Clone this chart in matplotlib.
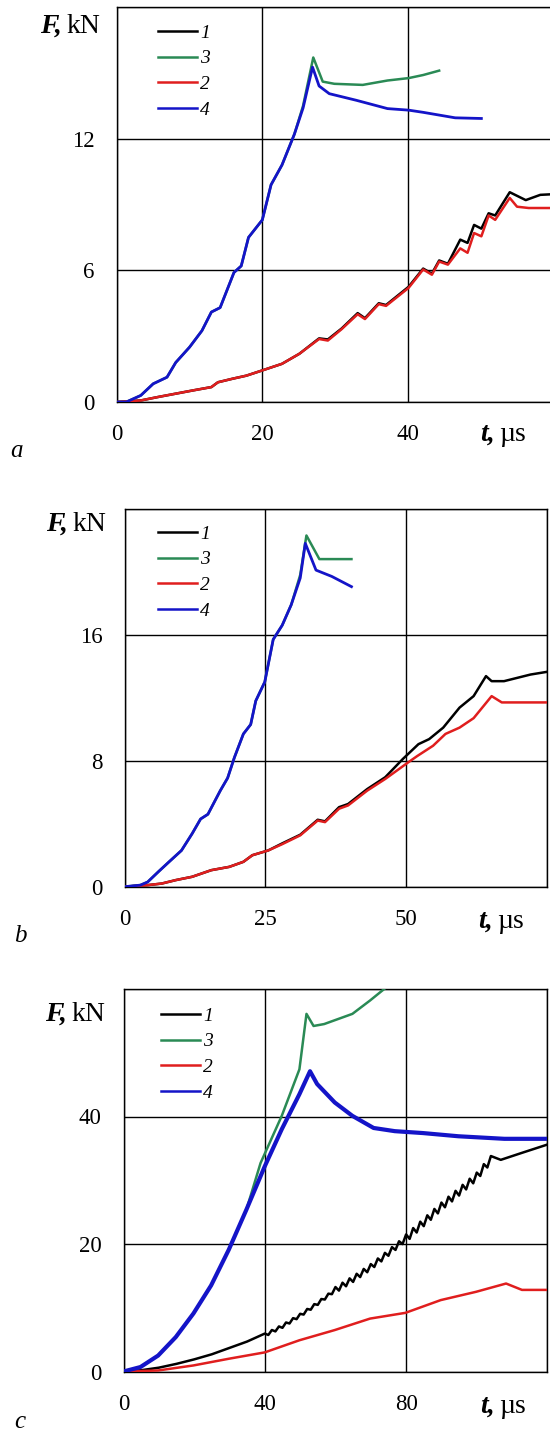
import matplotlib
matplotlib.use('Agg')
import matplotlib.pyplot as plt
from matplotlib.lines import Line2D

plt.rcParams['font.family'] = ['Liberation Serif', 'DejaVu Serif']

# ---------------- data: panel a ----------------
a_xticks = [0, 20, 40]
a_yticks = [0, 6, 12]
a_xlim = (0, 60)
a_ylim = (0, 18)

a4_t = [0, 1.3, 3.3, 5, 6.9, 8.1, 10, 11.7, 13, 14.2, 16.1, 17.1, 18.1, 20, 21.2, 22.7, 24.4, 25.6, 26.9,
        27.8, 29.2, 32.9, 37.2, 40.1, 42.1, 46.5, 50.1]
a4_F = [0, 0, 0.3, 0.83, 1.13, 1.8, 2.5, 3.25, 4.1, 4.3, 5.9, 6.2, 7.5, 8.3, 9.9, 10.8, 12.2, 13.4, 15.26,
        14.4, 14.05, 13.75, 13.37, 13.3, 13.2, 12.95, 12.92]
a3_t = [0, 1.3, 3.3, 5, 6.9, 8.1, 10, 11.7, 13, 14.2, 16.1, 17.1, 18.1, 20, 21.2, 22.7, 24.4, 25.6, 27.0,
        28.3, 29.9, 33.8, 37.2, 40.1, 42.1, 44.3]
a3_F = [0, 0, 0.3, 0.83, 1.13, 1.8, 2.5, 3.25, 4.1, 4.3, 5.9, 6.2, 7.5, 8.3, 9.9, 10.8, 12.2, 13.5, 15.7,
        14.6, 14.5, 14.45, 14.65, 14.76, 14.9, 15.1]
a2_t = [0, 3.3, 5.7, 8.1, 10.5, 13, 13.9, 15.9, 17.8, 20, 22.7, 25.1, 27.8, 29, 30.9, 33.1, 34.1, 36, 37,
        40.1, 42.1, 43.3, 44.3, 45.5, 47.2, 48.2, 49.1, 50.1, 51.1, 52, 54, 55, 56.6, 60]
a2_F = [0, 0.07, 0.23, 0.38, 0.53, 0.68, 0.9, 1.06, 1.2, 1.44, 1.74, 2.2, 2.87, 2.8, 3.32, 4.0, 3.78, 4.46, 4.38,
        5.2, 6.04, 5.8, 6.4, 6.26, 7.0, 6.8, 7.7, 7.55, 8.5, 8.3, 9.3, 8.9, 8.84, 8.84]
a1_t = [0, 3.3, 5.7, 8.1, 10.5, 13, 13.9, 15.9, 17.8, 20, 22.7, 25.1, 27.8, 29, 30.9, 33.1, 34.1, 36, 37,
        40.1, 42.1, 43.3, 44.3, 45.5, 47.2, 48.2, 49.1, 50.1, 51.1, 52, 54, 56.2, 58.2, 60]
a1_F = [0, 0.07, 0.23, 0.38, 0.53, 0.68, 0.9, 1.06, 1.2, 1.44, 1.74, 2.2, 2.9, 2.85, 3.35, 4.05, 3.82, 4.5, 4.42,
        5.25, 6.08, 5.85, 6.45, 6.3, 7.4, 7.25, 8.07, 7.9, 8.6, 8.5, 9.56, 9.2, 9.44, 9.47]

# ---------------- data: panel b ----------------
b_xticks = [0, 25, 50]
b_yticks = [0, 8, 16]
b_xlim = (0, 75)
b_ylim = (0, 24)

b4_t = [0, 2.8, 4.1, 6, 7.9, 10.1, 12, 13.5, 14.8, 17, 18.3, 19.5, 21.1, 22.4, 23.3, 24.9, 26.4, 28, 29.6,
        31.2, 32.1, 34, 36.8, 40.3]
b4_F = [0, 0.1, 0.3, 0.95, 1.58, 2.3, 3.37, 4.3, 4.6, 6.1, 6.9, 8.2, 9.7, 10.3, 11.8, 13.0, 15.7, 16.6, 17.9,
        19.6, 21.8, 20.1, 19.7, 19.05]
b3_t = [0, 2.8, 4.1, 6, 7.9, 10.1, 12, 13.5, 14.8, 17, 18.3, 19.5, 21.1, 22.4, 23.3, 24.9, 26.4, 28, 29.6,
        31.2, 32.3, 34.6, 40.3]
b3_F = [0, 0.1, 0.3, 0.95, 1.58, 2.3, 3.37, 4.3, 4.6, 6.1, 6.9, 8.2, 9.7, 10.3, 11.8, 13.0, 15.7, 16.6, 17.9,
        19.8, 22.3, 20.8, 20.8]
b2_t = [0, 4.1, 6.6, 9.1, 12, 15.4, 18.6, 21.1, 22.7, 25.5, 28, 31.2, 34.3, 35.6, 38.1, 39.7, 43.1, 46.3,
        50.4, 52, 54.8, 57, 59.5, 62, 65.2, 67, 75]
b2_F = [0, 0.1, 0.2, 0.42, 0.63, 1.05, 1.26, 1.58, 2.0, 2.3, 2.7, 3.26, 4.2, 4.1, 4.95, 5.16, 6.1, 6.84,
        7.9, 8.3, 8.95, 9.7, 10.1, 10.7, 12.1, 11.7, 11.7]
b1_t = [0, 4.1, 6.6, 9.1, 12, 15.4, 18.6, 21.1, 22.7, 25.5, 28, 31.2, 34.3, 35.6, 38.1, 39.7, 43.1, 46.3,
        49.4, 52.2, 54.1, 56.6, 59.5, 62, 64.2, 65.2, 67.4, 72.1, 75]
b1_F = [0, 0.1, 0.2, 0.42, 0.63, 1.05, 1.26, 1.58, 2.0, 2.3, 2.75, 3.3, 4.25, 4.15, 5.05, 5.25, 6.2, 6.95,
        8.1, 9.05, 9.37, 10.1, 11.37, 12.1, 13.37, 13.05, 13.05, 13.47, 13.64]

# ---------------- data: panel c ----------------
c_xticks = [0, 40, 80]
c_yticks = [0, 20, 40]
c_xlim = (0, 120)
c_ylim = (0, 60)

c4_t = [0, 4.8, 9.8, 14.8, 19.8, 24.8, 29.8, 34.8, 40, 44.8, 49.8, 52.8, 54.8, 59.8, 64.8, 70.8, 76.8,
        84.8, 94.8, 107.8, 120]
c4_F = [0, 0.7, 2.5, 5.4, 9.1, 13.5, 19.1, 25.4, 32.2, 38.0, 43.5, 47.1, 45.1, 42.2, 40.1, 38.2, 37.7,
        37.4, 36.9, 36.5, 36.5]
c3_t = [0, 4.8, 9.8, 14.8, 19.8, 24.8, 29.8, 34.8, 38.8, 44.8, 49.8, 51.8, 53.8, 56.8, 64.8, 69.8, 73.8]
c3_F = [0, 0.7, 2.5, 5.4, 9.1, 13.5, 19.1, 25.4, 32.7, 40.1, 47.4, 56.1, 54.2, 54.5, 56.1, 58.2, 60.0]
c2_t = [0, 9.8, 19.8, 29.8, 40, 49.8, 59.8, 69.8, 79.8, 89.8, 99.8, 108.3, 112.8, 120]
c2_F = [0, 0.16, 0.95, 2.0, 3.0, 4.9, 6.5, 8.3, 9.2, 11.2, 12.5, 13.8, 12.8, 12.8]
c1_t = [0, 5, 10, 15, 20, 25, 30, 35, 40, 41, 42, 43, 44, 45, 46, 47, 48, 49, 50, 51, 52, 53, 54, 55, 56, 57, 58, 59,
        60, 61, 62, 63, 64, 65, 66, 67, 68, 69, 70, 71, 72, 73, 74, 75, 76, 77, 78, 79, 80, 81, 82, 83, 84,
        85, 86, 87, 88, 89, 90, 91, 92, 93, 94, 95, 96, 97, 98, 99, 100, 101, 102, 103, 104, 106.8, 112.8, 120]
c1_F = [0, 0.2, 0.6, 1.2, 1.9, 2.7, 3.7, 4.7, 5.95, 5.73, 6.51, 6.29, 7.07, 6.85, 7.69, 7.53, 8.37, 8.21, 9.05, 8.93,
        9.81, 9.69, 10.57, 10.45, 11.37, 11.29, 12.21, 12.13, 13.25, 12.69, 13.93, 13.37, 14.61, 14.05, 15.33,
        14.81, 16.09, 15.57, 16.85, 16.39, 17.73, 17.27, 18.61, 18.15, 19.51, 19.07, 20.43, 19.99, 21.5, 20.8,
        22.5, 21.8, 23.5, 22.8, 24.5, 23.8, 25.5, 24.8, 26.5, 25.76, 27.42, 26.68, 28.34, 27.6, 29.28, 28.56,
        30.24, 29.52, 31.2, 30.67, 32.53, 32.0, 33.8, 33.2, 34.3, 35.6]

legend_labels = ['1', '3', '2', '4']
panel_letters = ['a', 'b', 'c']

# ---------------- styling ----------------
W, H = 550, 1432
C_BLACK = '#000000'
C_GREEN = '#2a8a55'
C_RED = '#e01e1e'
C_BLUE = '#1414c8'
FS = 16.5
LFS = 20

fig = plt.figure(figsize=(W / 100, H / 100), dpi=100)


def make_axes(left, top, right, bottom):
    return fig.add_axes([left / W, 1 - bottom / H, (right - left) / W, (bottom - top) / H])


def fx(x):
    return x / W


def fy(y):
    return 1 - y / H


def style_axes(ax, xlim, ylim, xticks, yticks):
    ax.set_xlim(*xlim)
    ax.set_ylim(*ylim)
    ax.set_xticks(list(xticks) + [xlim[1]])
    ax.set_xticklabels([str(v) for v in xticks] + [''])
    ax.set_yticks(list(yticks) + [ylim[1]])
    ax.set_yticklabels([str(v) for v in yticks] + [''])
    ax.grid(True, color='black', linewidth=1.0)
    ax.set_axisbelow(True)
    ax.tick_params(axis='both', which='major', length=0, labelsize=FS)
    ax.tick_params(axis='x', which='major', pad=16)
    ax.tick_params(axis='y', which='major', pad=16)
    for s in ax.spines.values():
        s.set_linewidth(1.0)
        s.set_color('black')


def label_pair(x, y, bold_part, rest, size):
    t1 = fig.text(fx(x), fy(y), bold_part, fontsize=size, fontweight='bold', fontstyle='italic',
                  ha='left', va='baseline')
    ann = fig.axes[0].annotate(rest, xy=(1, 0), xycoords=t1, xytext=(3, 0), textcoords='offset points',
                               fontsize=size, ha='left', va='bottom', annotation_clip=False)
    return t1, ann


panels = [
    dict(box=(116.8, 7, 553.4, 402), xlim=a_xlim, ylim=a_ylim, xt=a_xticks, yt=a_yticks,
         s1=(a1_t, a1_F), s3=(a3_t, a3_F), s2=(a2_t, a2_F), s4=(a4_t, a4_F),
         Fpos=(40, 33), tpos=(480, 441), lpos=(10, 457), leg=(158, 24), lw4=2.0),
    dict(box=(124.6, 508.7, 546.8, 886.7), xlim=b_xlim, ylim=b_ylim, xt=b_xticks, yt=b_yticks,
         s1=(b1_t, b1_F), s3=(b3_t, b3_F), s2=(b2_t, b2_F), s4=(b4_t, b4_F),
         Fpos=(46, 531), tpos=(478, 928), lpos=(14, 942), leg=(158, 525), lw4=2.0),
    dict(box=(123.5, 989, 547.4, 1371.5), xlim=c_xlim, ylim=c_ylim, xt=c_xticks, yt=c_yticks,
         s1=(c1_t, c1_F), s3=(c3_t, c3_F), s2=(c2_t, c2_F), s4=(c4_t, c4_F),
         Fpos=(45, 1021), tpos=(480, 1413), lpos=(14, 1428), leg=(161, 1007), lw4=3.0),
]

for p, letter in zip(panels, panel_letters):
    ax = make_axes(*p['box'])
    style_axes(ax, p['xlim'], p['ylim'], p['xt'], p['yt'])
    ax.plot(*p['s1'], color=C_BLACK, lw=1.8, zorder=3)
    ax.plot(*p['s3'], color=C_GREEN, lw=1.8, zorder=3)
    ax.plot(*p['s2'], color=C_RED, lw=1.8, zorder=4)
    ax.plot(*p['s4'], color=C_BLUE, lw=p['lw4'], zorder=4)
    handles = [Line2D([], [], color=C_BLACK, lw=1.8), Line2D([], [], color=C_GREEN, lw=1.8),
               Line2D([], [], color=C_RED, lw=1.8), Line2D([], [], color=C_BLUE, lw=1.8)]
    ax.legend(handles, legend_labels, loc='upper left', bbox_to_anchor=(fx(p['leg'][0]), fy(p['leg'][1])),
              bbox_transform=fig.transFigure, frameon=False, borderpad=0, borderaxespad=0,
              handlelength=2.0, handletextpad=0.15, labelspacing=0.42,
              prop=dict(family='Liberation Serif', style='italic', size=14))

for p, letter in zip(panels, panel_letters):
    label_pair(p['Fpos'][0], p['Fpos'][1], 'F,', 'kN', LFS)
    label_pair(p['tpos'][0], p['tpos'][1], 't,', 'µs', LFS)
    fig.text(fx(p['lpos'][0]), fy(p['lpos'][1]), letter, fontsize=18, fontstyle='italic', ha='left',
             va='baseline')

fig.savefig('out.png', dpi=100)
